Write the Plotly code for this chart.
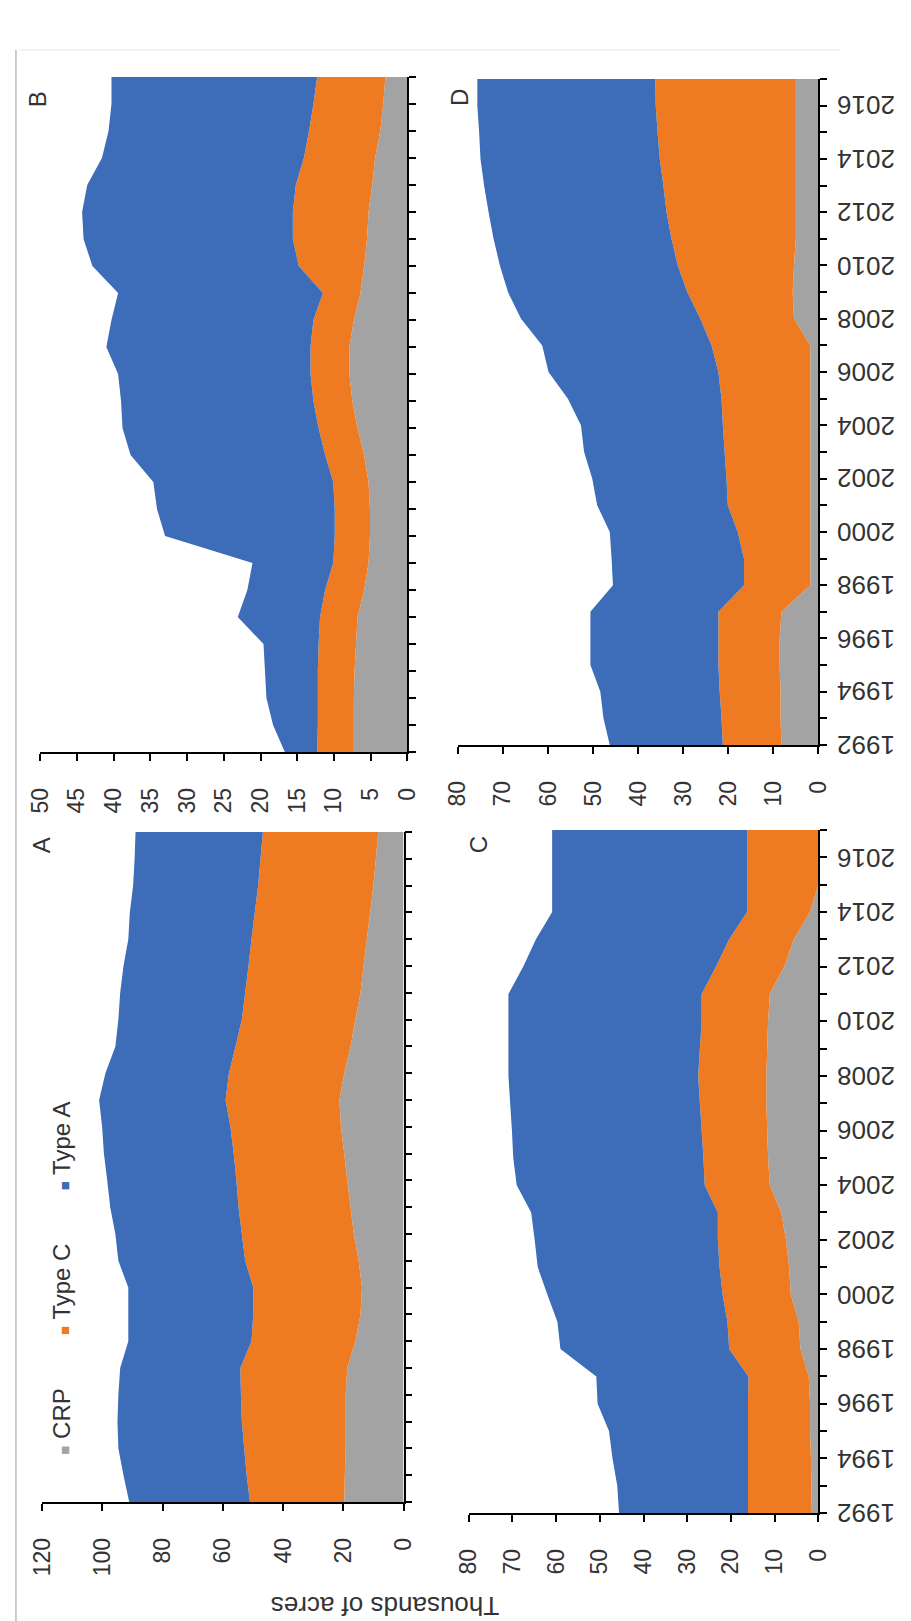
import plotly.graph_objects as go

years = list(range(1992, 2018))
year_labels = list(range(1992, 2017, 2))

# Panel A (thousands of acres)
a_crp = [19.7, 19.5, 19.2, 19.2, 19.2, 18.7, 16.0, 14.3, 13.8, 14.9, 16.5, 17.6, 18.7,
         19.7, 20.8, 21.3, 19.7, 17.6, 16.0, 14.3, 13.3, 12.2, 11.1, 10.0, 9.2, 8.4]
a_typec = [31.3, 32.6, 33.7, 34.5, 34.8, 35.5, 34.5, 35.6, 36.1, 37.7, 37.2, 37.2, 36.8,
           36.7, 36.7, 37.8, 38.3, 38.2, 37.7, 38.3, 38.2, 38.3, 38.3, 38.3, 38.3, 38.3]
a_typea = [40.1, 40.9, 41.8, 41.3, 40.7, 39.9, 40.9, 41.5, 41.5, 42.1, 42.0, 42.6, 42.9,
           43.1, 42.6, 42.0, 41.0, 39.9, 41.0, 41.5, 41.5, 40.9, 41.5, 41.5, 41.8, 42.3]

# Panel B
b_crp = [7.3, 7.3, 7.3, 7.2, 7.0, 6.8, 5.9, 5.3, 5.1, 5.1, 5.3, 5.9, 6.8,
         7.5, 7.9, 7.9, 7.3, 6.4, 5.9, 5.5, 5.3, 4.8, 4.4, 3.7, 3.3, 3.0]
b_typec = [5.0, 4.9, 4.9, 5.0, 5.1, 5.1, 5.3, 4.8, 4.8, 4.8, 4.8, 5.3, 5.3,
           5.3, 5.3, 5.3, 5.5, 5.1, 8.9, 10.1, 10.3, 10.4, 9.7, 9.7, 9.5, 9.3]
b_typea = [4.4, 6.1, 7.0, 7.2, 7.5, 11.2, 10.6, 11.0, 23.1, 24.2, 24.5, 26.5, 26.7,
           26.2, 26.2, 27.8, 27.5, 27.9, 28.1, 28.5, 28.7, 28.4, 27.5, 27.3, 27.5, 28.0]

# Panel C
c_crp = [1.5, 1.6, 1.7, 1.9, 1.9, 2.2, 4.1, 4.5, 6.3, 6.7, 7.4, 8.5, 11.1,
         11.5, 11.7, 11.9, 11.9, 11.7, 11.5, 11.1, 7.8, 5.6, 1.9, 0.0, 0.0, 0.0]
c_typec = [14.6, 14.5, 14.4, 14.2, 14.2, 13.8, 16.3, 16.3, 15.6, 15.9, 15.6, 14.5, 14.9,
           14.8, 15.0, 15.2, 15.6, 15.4, 15.2, 15.6, 15.6, 14.8, 14.4, 16.3, 16.3, 16.3]
c_typea = [29.5, 29.9, 31.0, 31.8, 34.4, 34.8, 38.6, 38.9, 40.1, 41.6, 41.9, 42.7, 43.0,
           43.5, 43.4, 43.4, 43.4, 43.8, 44.2, 44.2, 44.1, 44.2, 44.6, 44.6, 44.6, 44.6]

# Panel D
d_crp = [8.2, 8.4, 8.4, 8.6, 8.6, 8.2, 1.8, 1.8, 1.8, 1.8, 1.8, 1.8, 1.8,
         1.8, 1.8, 1.8, 5.4, 5.7, 5.4, 5.0, 5.0, 5.0, 5.0, 5.0, 5.0, 5.0]
d_typec = [13.0, 13.1, 13.5, 13.6, 13.6, 14.0, 14.7, 14.7, 16.1, 18.3, 18.6, 19.0, 19.4,
           19.7, 20.4, 21.9, 20.8, 23.4, 25.8, 27.6, 28.7, 29.4, 30.2, 30.7, 31.1, 31.2]
d_typea = [25.1, 26.2, 26.5, 28.4, 28.4, 28.4, 29.1, 29.4, 28.4, 29.0, 29.8, 31.2, 31.5,
           34.1, 37.7, 37.6, 39.8, 39.8, 39.5, 39.5, 39.5, 39.8, 39.8, 39.6, 39.6, 39.5]

series_names = ["CRP", "Type C", "Type A"]
colors = ["#A3A3A3", "#EE7B22", "#3D6CB8"]

# panel: (label, data, value max, value step, axis suffix, show year labels)
panels = [
    ("B", [b_crp, b_typec, b_typea], 50, 5, "", False),
    ("A", [a_crp, a_typec, a_typea], 120, 20, "2", False),
    ("D", [d_crp, d_typec, d_typea], 80, 10, "3", True),
    ("C", [c_crp, c_typec, c_typea], 80, 10, "4", True),
]

W, H = 911, 1621
def fx(px):
    return px / W
def fy(py):
    return 1 - py / H

# pixel boxes (left, right, top, bottom)
boxes = {
    "B": (27, 405, 77, 752),
    "A": (29, 401, 832, 1502),
    "D": (457, 828, 79, 745),
    "C": (468, 828, 830, 1513),
}

FONT = "Liberation Sans, Arial, sans-serif"
tickfont = dict(family=FONT, size=23, color="#333333")
yearfont = dict(family=FONT, size=26, color="#333333")

fig = go.Figure()
for label, data, vmax, vstep, sfx, showyears in panels:
    for name, vals, col in zip(series_names, data, colors):
        fig.add_trace(go.Scatter(
            x=vals, y=years, name=name, mode="none",
            stackgroup="g" + label, orientation="h",
            fillcolor=col, showlegend=False, hoverinfo="skip",
            xaxis="x" + sfx, yaxis="y" + sfx,
        ))
    l, r, t, b = boxes[label]
    fig.update_layout(**{
        "xaxis" + sfx: dict(
            domain=[fx(l), fx(r)], range=[vmax, 0], anchor="y" + sfx,
            tickmode="linear", tick0=0, dtick=vstep, tickangle=-90,
            ticks="outside", ticklen=7, tickwidth=1.5, tickcolor="black",
            ticklabelstandoff=18,
            showline=True, linecolor="black", linewidth=1.5,
            showgrid=False, zeroline=False, tickfont=tickfont, fixedrange=True,
        ),
        "yaxis" + sfx: dict(
            domain=[fy(b), fy(t)], range=[1992, 2017], anchor="x" + sfx,
            side="right", tickmode="linear", tick0=1992, dtick=2,
            ticks="outside", ticklen=7, tickwidth=1.5, tickcolor="black",
            minor=dict(dtick=1, ticks="outside", ticklen=7, tickwidth=1.5, tickcolor="black"),
            showline=True, linecolor="black", linewidth=1.5,
            showgrid=False, zeroline=False, showticklabels=False, fixedrange=True,
        ),
    })
    if showyears:
        # upside-down year labels (rotated 180 degrees), placed on the year scale
        for yr in year_labels:
            fig.add_annotation(x=fx(877), xref="paper", y=yr, yref="y" + sfx,
                               text=str(yr), showarrow=False, textangle=180,
                               xanchor="center", yanchor="middle", font=yearfont)

letters = {"B": (25, 99), "D": (459, 97), "A": (28, 845), "C": (478, 845)}
for k, (px, py) in letters.items():
    fig.add_annotation(x=fx(px), y=fy(py), xref="paper", yref="paper", text=k,
                       showarrow=False, textangle=-90, xanchor="center", yanchor="middle",
                       font=dict(family=FONT, size=24, color="#333333"))

gap = "&nbsp;" * 8
legend_text = gap.join(
    f"<span style='color:{c}; font-size:15px'>■</span> {n}" for n, c in zip(series_names, colors)
)
fig.add_annotation(x=fx(48), y=fy(1278), xref="paper", yref="paper", text=legend_text,
                   showarrow=False, textangle=-90, xanchor="center", yanchor="middle",
                   font=dict(family=FONT, size=24, color="#333333"))

fig.add_annotation(x=fx(382), y=fy(1606), xref="paper", yref="paper", text="Thousands of acres",
                   showarrow=False, textangle=180, xanchor="center", yanchor="middle",
                   font=dict(family=FONT, size=26, color="#333333"))

# faint chart-area border
fig.add_shape(type="line", xref="paper", yref="paper", x0=fx(6), x1=fx(850), y0=fy(50), y1=fy(50),
              line=dict(color="#E6E6E6", width=1))
fig.add_shape(type="line", xref="paper", yref="paper", x0=fx(2), x1=fx(2), y0=fy(50), y1=0,
              line=dict(color="#BBBBBB", width=1.5))

fig.update_layout(
    width=W, height=H, margin=dict(l=0, r=0, t=0, b=0),
    paper_bgcolor="white", plot_bgcolor="white", showlegend=False,
)

fig.write_html("out.html", config={"displayModeBar": False},
               post_script="document.body.style.margin='0px';")
